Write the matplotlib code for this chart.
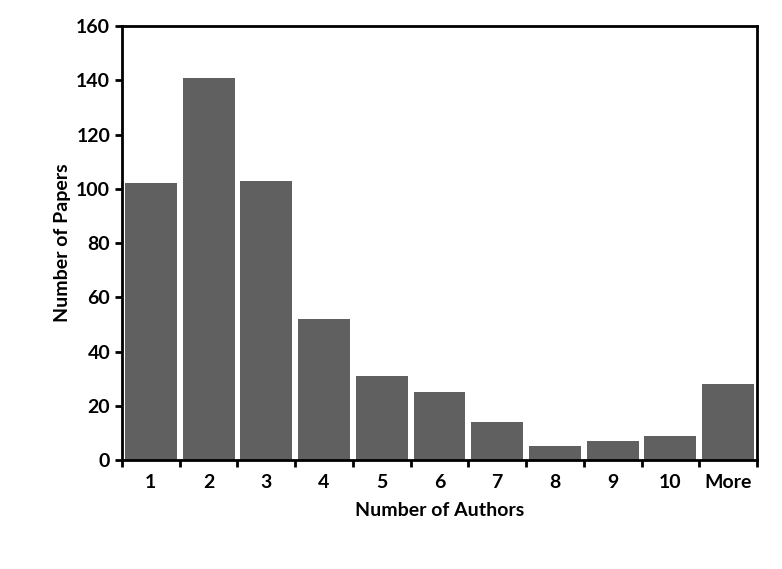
import matplotlib
matplotlib.use('Agg')
import matplotlib.pyplot as plt
import numpy as np

categories = ['1', '2', '3', '4', '5', '6', '7', '8', '9', '10', 'More']
papers = [102, 141, 103, 52, 31, 25, 14, 5, 7, 9, 28]

plt.rcParams['font.family'] = ['Lato', 'DejaVu Sans']
plt.rcParams['font.weight'] = 'bold'

fig = plt.figure(figsize=(7.82, 5.69), dpi=100)
ax = fig.add_axes([0.156, 0.1916, 0.812, 0.7624])

x = np.arange(len(categories))
ax.bar(x, papers, width=0.9, color='#606060')

ax.set_xlim(-0.5, len(categories) - 0.5)
ax.set_ylim(0, 160)
ax.set_yticks(range(0, 161, 20))
ax.set_xticks(x)
ax.set_xticklabels(categories)
ax.set_xticks(np.arange(-0.5, len(categories), 1), minor=True)
ax.tick_params(axis='x', which='major', length=0, labelsize=14, pad=10)
ax.tick_params(axis='x', which='minor', length=5, width=2, direction='out')
ax.tick_params(axis='y', length=5, width=2, direction='out', labelsize=14)
for s in ax.spines.values():
    s.set_linewidth(2)

ax.set_xlabel('Number of Authors', fontsize=14, fontweight='bold', labelpad=8)
ax.set_ylabel('Number of Papers', fontsize=14, fontweight='bold')

fig.savefig('out.png', dpi=100)
